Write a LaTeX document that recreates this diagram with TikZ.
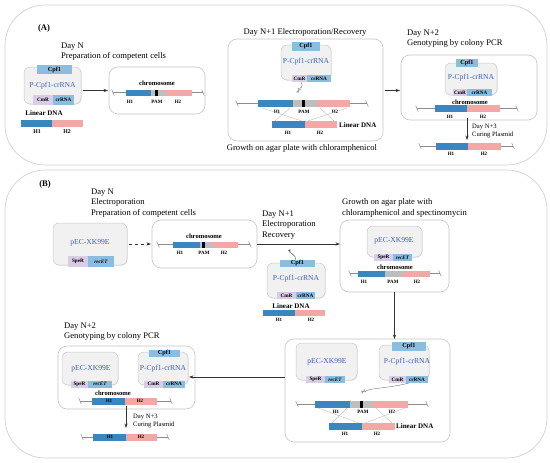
\documentclass[tikz,border=0pt]{standalone}
\usepackage{fontspec}
\setmainfont{Liberation Serif}
\newfontfamily\symfont{DejaVu Sans}
\usetikzlibrary{arrows.meta,shadows}
\definecolor{hblue}{HTML}{3A87C0}
\definecolor{hpink}{HTML}{F2A9A5}
\definecolor{hgray}{HTML}{BEBEBE}
\definecolor{lblue}{HTML}{8ABDE0}
\definecolor{lpurp}{HTML}{D9CDE5}
\definecolor{ptext}{HTML}{3E62B0}
\definecolor{pfill}{HTML}{F1F1F1}
\definecolor{pline}{HTML}{C8C8C8}
\definecolor{bline}{HTML}{C4C4C4}
\newcommand\bx[7][]{\node[inner sep=0pt,outer sep=0pt,minimum width={(#4-#2)*1pt},minimum height={(#5-#3)*1pt},#1] (#7) at ({(#2+#4)/2},{(#3+#5)/2}) {#6};}
\newcommand\seg[5]{\fill[#1] (#2,#3) rectangle (#4,#5);}
\newcommand\dline[3]{\draw[dnal] (#1,#3) -- (#2,#3);
  \draw[dnal] ({#1-1.3},{#3-3}) -- ({#1+1.3},{#3+3});
  \draw[dnal] ({#2-1.3},{#3-3}) -- ({#2+1.3},{#3+3});}
\begin{document}
\begin{tikzpicture}[x=1pt,y=-1pt,
  panel/.style={draw=bline!80, line width=0.7pt, rounded corners=40pt},
  stage/.style={draw=bline, fill=white, line width=0.6pt, rounded corners=9pt},
  plasmid/.style={draw=pline, fill=pfill, line width=0.5pt, rounded corners=6pt,
     drop shadow={opacity=0.12, shadow xshift=0.8pt, shadow yshift=-0.8pt}},
  gene/.style={fill=lblue, font=\bfseries\fontsize{5.2}{6}\selectfont},
  cpf/.style={fill=lblue, font=\bfseries\fontsize{6.2}{7}\selectfont},
  resist/.style={fill=lpurp, font=\bfseries\fontsize{5.2}{6}\selectfont},
  ttl/.style={font=\fontsize{8.6}{10.4}\selectfont, anchor=north west, inner sep=0pt, align=left},
  sttl/.style={font=\fontsize{6.6}{8.2}\selectfont, anchor=north west, inner sep=0pt, align=left},
  lbl/.style={font=\bfseries\fontsize{5}{6}\selectfont, inner sep=0pt},
  chr/.style={font=\bfseries\fontsize{6.6}{7}\selectfont, inner sep=0pt},
  lin/.style={font=\bfseries\fontsize{7}{8}\selectfont, inner sep=0pt},
  pname/.style={text=ptext, font=\fontsize{7.6}{8}\selectfont, inner sep=0pt},
  dnal/.style={draw=black!45, line width=0.5pt},
  cross/.style={draw=black!25, line width=0.4pt},
  arr/.style={-{Stealth[length=4.5pt,width=3.2pt]}, line width=0.6pt, draw=black!80},
  sci/.style={font=\symfont\fontsize{7}{7}\selectfont, text=black!65, inner sep=0pt},
  scil/.style={draw=black!55, line width=0.4pt}]
\useasboundingbox (0,0) rectangle (550,463);
% ================= PANEL A =================
\draw[panel] (5,5) rectangle (547,165);
\node[font=\bfseries\fontsize{8.6}{10}\selectfont, inner sep=0pt] (labA) at (44,28) {(A)};
\node[ttl] (tA1) at (61,42.5) {Day N\\Preparation of competent cells};
% plasmid A1
\bx[plasmid]{24}{67}{81}{104}{}{pA1}
\bx[cpf]{37}{65}{72}{74}{Cpf1}{cpA1}
\node[pname] (nA1) at (52.5,86) {P-Cpf1-crRNA};
\bx[resist]{33}{95}{53}{105}{CmR}{cmA1}
\bx[gene]{53}{95}{74}{105}{crRNA}{crA1}
\node[lin] (ldA1) at (44,113) {Linear DNA};
\seg{hblue}{21}{120}{52}{126.5}
\seg{hpink}{52}{120}{83}{126.5}
\node[lbl,font=\bfseries\fontsize{5.8}{6}\selectfont] (h1a) at (37,131.5) {H1};
\node[lbl,font=\bfseries\fontsize{5.8}{6}\selectfont] (h2a) at (67,131.5) {H2};
% chromosome box A1
\bx[stage]{109}{67}{205}{114}{}{cA1}
\node[chr] (chA1) at (157,83.5) {chromosome};
\dline{113}{203}{92.5}
\seg{hblue}{126}{89.5}{151}{96}
\seg{hgray}{151}{89.5}{166}{96}
\seg{black}{155.2}{89.5}{157.8}{96}
\seg{hpink}{166}{89.5}{192}{96}
\node[lbl] (l1) at (130,101.5) {H1};
\node[lbl] (l2) at (157,101.5) {PAM};
\node[lbl] (l3) at (178,101.5) {H2};
\draw[arr] ([xshift=2pt]pA1.east |- cA1.west) -- ([xshift=-1pt]cA1.west);
% N+1 box A
\bx[stage]{228}{39}{383}{141}{}{bA2}
\node[font=\fontsize{8.6}{10}\selectfont, inner sep=0pt] (tA2) at (305,32) {Day N+1 Electroporation/Recovery};
\node[font=\fontsize{8.6}{10}\selectfont, inner sep=0pt] (tA2b) at (302,148) {Growth on agar plate with chloramphenicol};
\bx[plasmid]{281}{45}{331}{80}{}{pA2}
\bx[cpf]{292}{42}{320}{50.5}{Cpf1}{cpA2}
\node[pname] (nA2) at (306,62) {P-Cpf1-crRNA};
\bx[resist]{292}{75}{307}{82}{CmR}{cmA2}
\bx[gene]{307}{75}{331}{82}{crRNA}{crA2}
\node[sci,rotate=-120] (sA2) at (298,91.5) {✂};
\draw[scil] (crA2.south west) ++(-6,0) .. controls (304,87) and (300,88) .. (sA2);
\dline{237}{367}{103.5}
\seg{hblue}{258}{100}{293}{107}
\seg{hgray}{293}{100}{317}{107}
\seg{black}{302.2}{100}{305.2}{107}
\seg{hpink}{317}{100}{350}{107}
\node[lbl] (l4) at (277,111.5) {H1};
\node[lbl] (l5) at (304,111.5) {PAM};
\node[lbl] (l6) at (335,111.5) {H2};
\draw[cross] (262,108) -- (302,121); \draw[cross] (290,108) -- (275,121);
\draw[cross] (320,108) -- (334,121); \draw[cross] (347,108) -- (308,121);
\seg{hblue}{272}{121}{305}{128}
\seg{hpink}{305}{121}{337}{128}
\node[lin,anchor=west] (ldA2) at (339,125) {Linear DNA};
\node[lbl] (l7) at (288,132.5) {H1};
\node[lbl] (l8) at (320,132.5) {H2};
\draw[arr] ([xshift=2pt]bA2.east |- cA1.west) -- ++(15,0) coordinate (eA3);
% N+2 box A
\node[ttl] (tA3) at (407,29.5) {Day N+2\\Genotyping by colony PCR};
\bx[stage]{401}{55}{537}{120}{}{bA3}
\bx[plasmid]{445}{63}{497}{95}{}{pA3}
\bx[cpf]{456}{59}{478}{67}{Cpf1}{cpA3}
\node[pname] (nA3) at (471,78) {P-Cpf1-crRNA};
\bx[resist]{453}{89}{467}{96}{CmR}{cmA3}
\bx[gene]{467}{89}{492}{96}{crRNA}{crA3}
\node[chr] (chA3) at (470,102) {chromosome};
\dline{417}{517}{108.5}
\seg{hblue}{435}{105}{467}{112}
\seg{hpink}{467}{105}{500}{112}
\node[lbl] (l9) at (450,116.5) {H1};
\node[lbl] (l10) at (483,116.5) {H2};
\coordinate (eA4) at (467,140);
\draw[arr] (bA3.south -| eA4) ++(0,-2) -- (eA4);
\node[sttl] (tA4) at (472,124) {Day N+3\\Curing Plasmid};
\dline{420}{513}{146}
\seg{hblue}{436}{143}{468}{149.5}
\seg{hpink}{468}{143}{501}{149.5}
\node[lbl] (l11) at (451,154) {H1};
\node[lbl] (l12) at (484,154) {H2};
% ================= PANEL B =================
\draw[panel] (5,170) rectangle (547,458);
\node[font=\bfseries\fontsize{8.6}{10}\selectfont, inner sep=0pt] (labB) at (45,184) {(B)};
\node[ttl] (tB1) at (91,188.5) {Day N\\Electroporation\\Preparation of competent cells};
\bx[plasmid]{53}{223}{127}{265}{}{pB1}
\node[pname] (nB1) at (90,243) {pEC-XK99E};
\bx[resist]{68}{256}{88}{267}{SpeR}{spB1}
\bx[gene]{88}{256}{114}{267}{\itshape recET}{reB1}
\bx[stage]{152}{220}{257}{268}{}{cB1}
\draw[arr,dashed] ([xshift=2pt]pB1.east |- cB1.west) -- ([xshift=-1pt]cB1.west);
\node[chr] (chB1) at (204,236) {chromosome};
\dline{158}{250}{244.5}
\seg{hblue}{173}{242}{200}{248}
\seg{hgray}{200}{242}{213}{248}
\seg{black}{202}{242}{204.5}{248}
\seg{hpink}{213}{242}{238}{248}
\node[lbl] (m1) at (180,253) {H1};
\node[lbl] (m2) at (204,253) {PAM};
\node[lbl] (m3) at (224,253) {H2};
% N+1 arrow
\node[ttl] (tB2) at (262,210.5) {Day N+1\\Electroporation\\Recovery};
\bx[stage]{340}{220}{449}{292}{}{gB}
\draw[arr] (cB1.east) -- (cB1.east -| gB.west);
\bx[plasmid]{267}{263}{325}{298}{}{pB2}
\bx[cpf]{280}{259.5}{315}{267}{Cpf1}{cpB2}
\node[pname] (nB2) at (296,279) {P-Cpf1-crRNA};
\bx[resist]{277}{292}{296}{299}{CmR}{cmB2}
\bx[gene]{296}{292}{315}{299}{crRNA}{crB2}
\coordinate (uB2) at (290.5,249);
\draw[-{Stealth[length=3pt,width=2.4pt]}, line width=0.5pt, draw=black!70] ([xshift=-2pt]cpB2.north) .. controls (297,255) and (288,253) .. (uB2);
\node[lin] (ldB2) at (291,306) {Linear DNA};
\seg{hblue}{263}{310}{295}{316}
\seg{hpink}{295}{310}{325}{316}
\node[lbl] (m4) at (279,320) {H1};
\node[lbl] (m5) at (311,320) {H2};
% growth box
\node[ttl] (tB3) at (342,198.5) {Growth on agar plate with\\chloramphenicol and spectinomycin};
\bx[plasmid]{367}{226}{422}{257}{}{pB3}
\node[pname] (nB3) at (394,241) {pEC-XK99E};
\bx[resist]{374}{254}{393}{261}{SpeR}{spB3}
\bx[gene]{393}{254}{412}{261}{\itshape recET}{reB3}
\node[chr] (chB3) at (395,267) {chromosome};
\dline{350}{440}{273.5}
\seg{hblue}{358}{271}{385}{276.5}
\seg{hgray}{385}{271}{403}{276.5}
\seg{hpink}{403}{271}{430}{276.5}
\node[lbl] (m6) at (364,282) {H1};
\node[lbl] (m7) at (393,282) {PAM};
\node[lbl] (m8) at (417,282) {H2};
% lower right box
\bx[stage]{285}{339}{450}{442}{}{lB}
\draw[arr] (gB.south) -- (gB.south |- lB.north);
\bx[plasmid]{296}{343}{357}{380}{}{pB4}
\node[pname] (nB4) at (327,362) {pEC-XK99E};
\bx[resist]{306}{376}{325}{383}{SpeR}{spB4}
\bx[gene]{325}{376}{345}{383}{\itshape recET}{reB4}
\bx[plasmid]{379}{345}{429}{380}{}{pB5}
\bx[cpf]{392}{342}{426}{350.5}{Cpf1}{cpB5}
\node[pname] (nB5) at (407,362) {P-Cpf1-crRNA};
\bx[resist]{389}{376}{406}{383}{CmR}{cmB5}
\bx[gene]{406}{376}{428}{383}{crRNA}{crB5}
\node[sci,rotate=-150] (sB5) at (363,392) {✂};
\draw[scil] ([xshift=-8pt]crB5.south) .. controls (390,388) and (372,388) .. (sB5);
\dline{297}{427}{404}
\seg{hblue}{315}{401}{350}{407.5}
\seg{hgray}{350}{401}{373}{407.5}
\seg{black}{359.8}{401}{362.8}{407.5}
\seg{hpink}{373}{401}{408}{407.5}
\node[lbl] (m9) at (336,411.5) {H1};
\node[lbl] (m10) at (363,411.5) {PAM};
\node[lbl] (m11) at (392,411.5) {H2};
\draw[cross] (318,408) -- (359,423); \draw[cross] (347,408) -- (332,423);
\draw[cross] (376,408) -- (392,423); \draw[cross] (405,408) -- (365,423);
\seg{hblue}{329}{423}{362}{429.5}
\seg{hpink}{362}{423}{395}{429.5}
\node[lin,anchor=west] (ldB5) at (396,426.5) {Linear DNA};
\node[lbl] (m12) at (345,433.5) {H1};
\node[lbl] (m13) at (377,433.5) {H2};
% lower left box
\node[ttl] (tB4) at (64,322.5) {Day N+2\\Genotyping by colony PCR};
\bx[stage]{58}{346}{195}{409}{}{nB}
\draw[arr, shorten >=-6pt] ([yshift=13.5pt]lB.west) -- ([yshift=13.5pt]lB.west -| nB.east);
\bx[plasmid]{62}{352}{118}{385}{}{pB6}
\node[pname] (nB6) at (91,369) {pEC-XK99E};
\bx[resist]{71}{381}{88}{387.5}{SpeR}{spB6}
\bx[gene]{88}{381}{112}{387.5}{\itshape recET}{reB6}
\bx[plasmid]{138}{352}{188}{385}{}{pB7}
\bx[cpf]{149}{349.5}{180}{357}{Cpf1}{cpB7}
\node[pname] (nB7) at (163,369) {P-Cpf1-crRNA};
\bx[resist]{144}{381}{163}{387.5}{CmR}{cmB7}
\bx[gene]{163}{381}{185}{387.5}{crRNA}{crB7}
\node[chr] (chB7) at (113,393) {chromosome};
\dline{80}{171}{401}
\seg{hblue}{92}{397.5}{125}{404.5}
\seg{hpink}{125}{397.5}{157}{404.5}
\node[lbl] (m14) at (109,401) {H1};
\node[lbl] (m15) at (140,401) {H2};
\coordinate (eB8) at (126,428);
\draw[arr] (nB.south -| eB8) ++(0,-3) -- (eB8);
\node[sttl] (tB5) at (133,413.5) {Day N+3\\Curing Plasmid};
\dline{82}{168}{437}
\seg{hblue}{93}{433.5}{126}{440.5}
\seg{hpink}{126}{433.5}{157}{440.5}
\node[lbl] (m16) at (110,437) {H1};
\node[lbl] (m17) at (141,437) {H2};
\end{tikzpicture}
\end{document}
